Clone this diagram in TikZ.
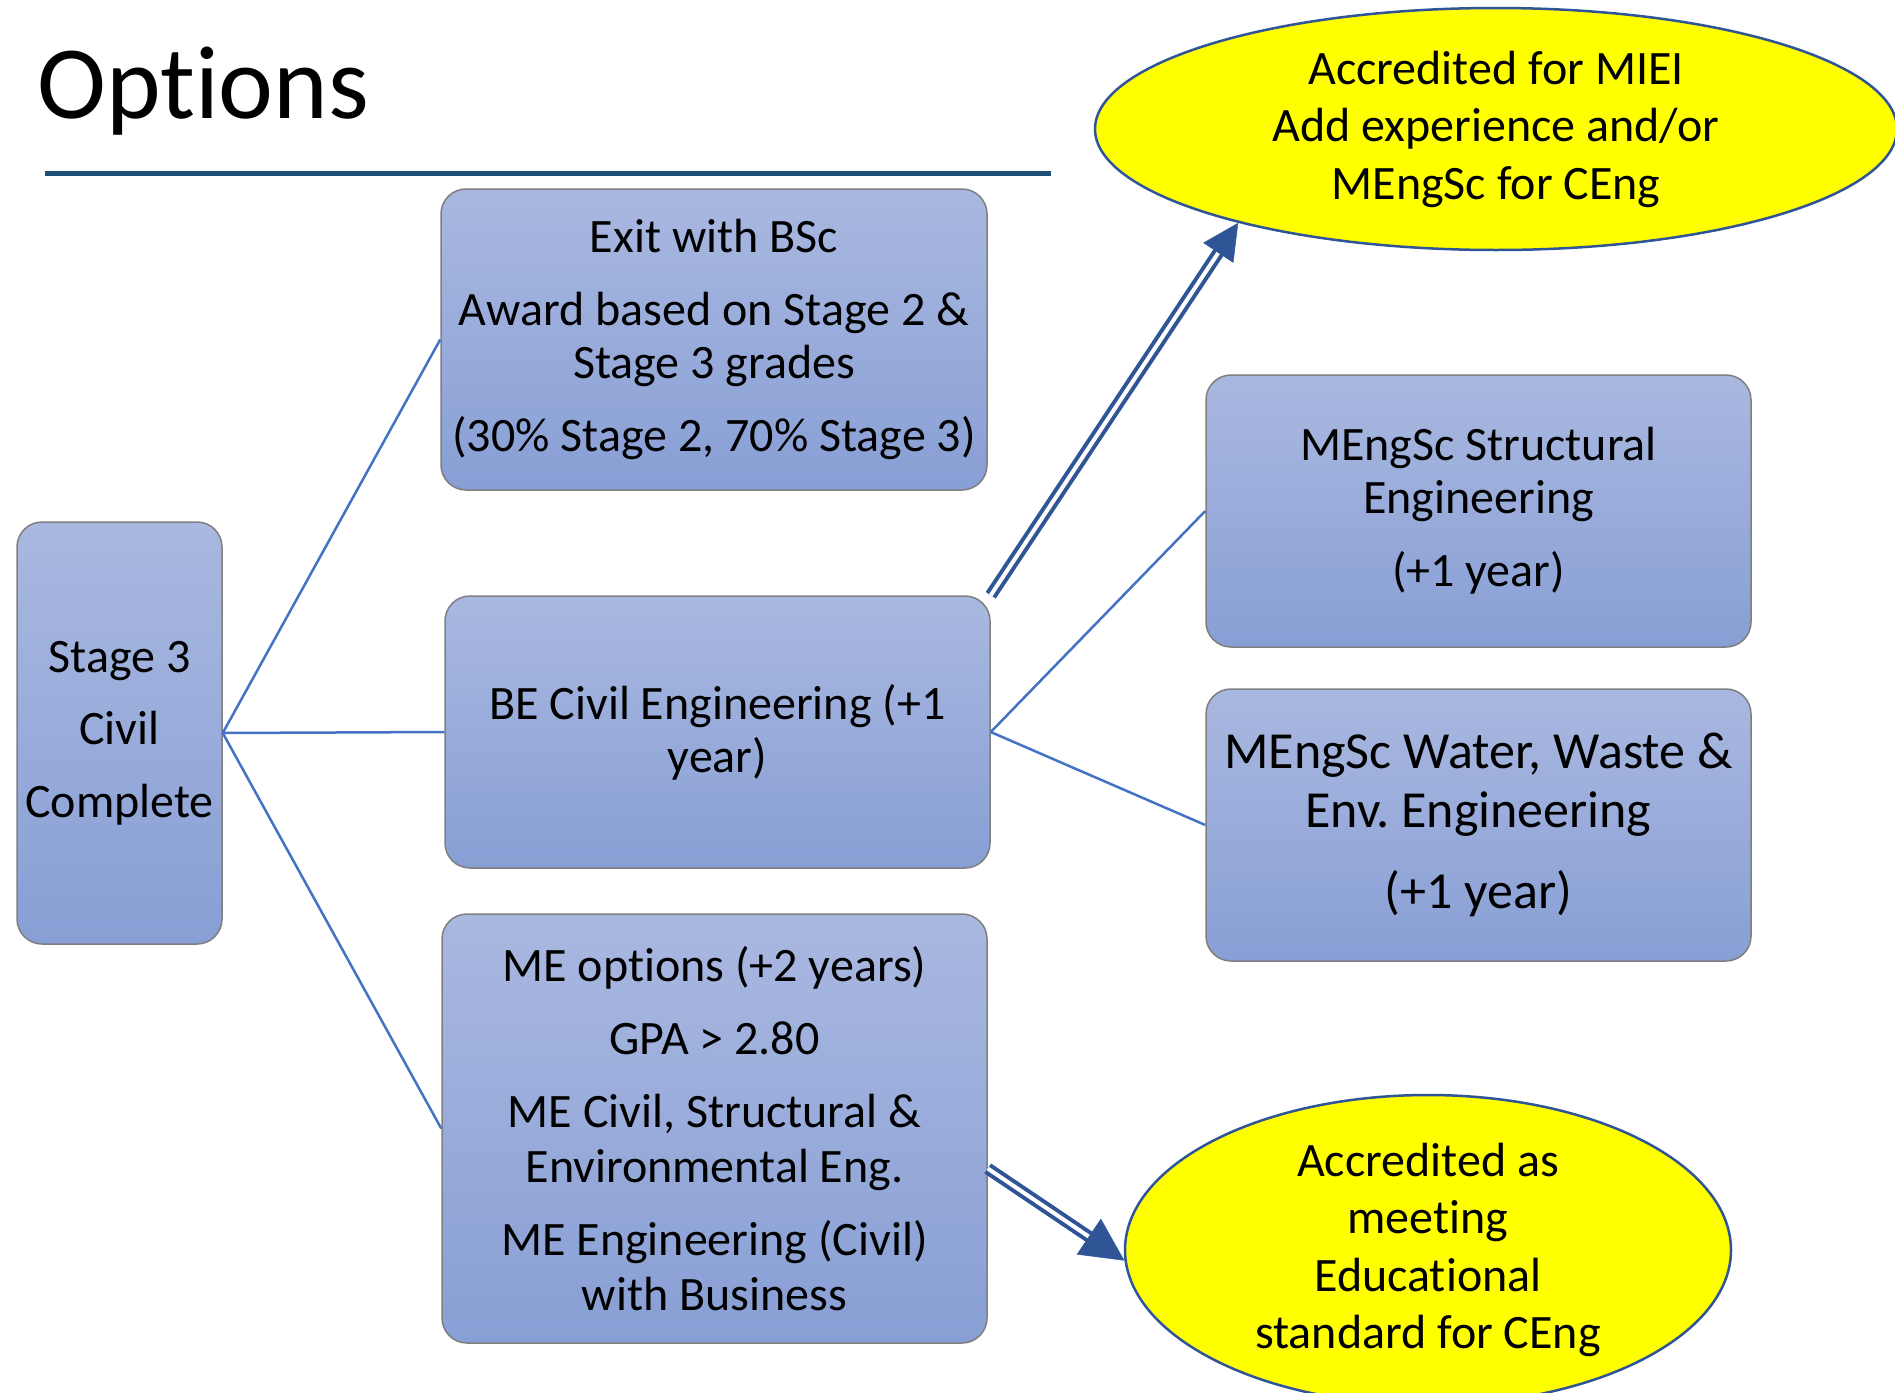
\documentclass[tikz,border=0pt]{standalone}
\usepackage{fontspec}
\setmainfont{Carlito}[Ligatures=NoCommon]
\frenchspacing
\usetikzlibrary{shapes.geometric,arrows.meta,calc}
\definecolor{boxtop}{HTML}{A9B8E0}
\definecolor{boxbot}{HTML}{889FD5}
\definecolor{boxline}{HTML}{7F7F7F}
\definecolor{connblue}{HTML}{4472C4}
\definecolor{arrblue}{HTML}{2F5597}
\definecolor{rulec}{HTML}{1F4E79}
\definecolor{ovalfill}{HTML}{FFFF00}
\begin{document}
\begin{tikzpicture}[x=1pt,y=-1pt,
  box/.style={draw=boxline, line width=1.5pt, rounded corners=25pt, top color=boxtop, bottom color=boxbot, align=center, inner sep=0pt, text=black, font=\fontsize{48}{53}\selectfont},
  oval/.style={ellipse, draw=arrblue, line width=2.5pt, fill=ovalfill, align=center, inner sep=0pt, text=black, font=\fontsize{48}{57.5}\selectfont},
  link/.style={draw=connblue, line width=2.5pt},
  dbl/.style={draw=arrblue, line width=4pt, double=white, double distance=4pt},
  tipline/.style={draw=arrblue, line width=0.5pt, -{Triangle[length=#1,width=#1]}}
]
\clip (0,0) rectangle (1895,1392);
\fill[white] (0,0) rectangle (1895,1392);

\node[anchor=base west, inner sep=0pt, font=\fontsize{104}{120}\selectfont] (T) at (37,118) {Options};
\draw[line width=5pt, rulec] (45,173) -- (1051,173);

\node[box, minimum width=205pt, minimum height=422pt] (S) at (119.5,733) {Stage 3\\[19.5pt]Civil\\[19.5pt]Complete};
\node[box, minimum width=546pt, minimum height=301pt] (X) at (714,339.5) {Exit with BSc\\[20pt]Award based on Stage 2 \&\\Stage 3 grades\\[20pt](30\% Stage 2, 70\% Stage 3)};
\node[box, minimum width=545pt, minimum height=272pt] (BE) at (717.5,732) {BE Civil Engineering (+1\\year)};
\node[box, minimum width=545pt, minimum height=429pt, font=\fontsize{48}{55}\selectfont] (ME) at (714.5,1128.5) {ME options (+2 years)\\[18pt]GPA > 2.80\\[18pt]ME Civil, Structural \&\\Environmental Eng.\\[18pt]ME Engineering (Civil)\\with Business};
\node[box, minimum width=545pt, minimum height=272pt] (Str) at (1478.5,511) {MEngSc Structural\\Engineering\\[20pt](+1 year)};
\node[box, minimum width=545pt, minimum height=272pt, font=\fontsize{52}{59}\selectfont] (W) at (1478.5,825) {MEngSc Water, Waste \&\\Env. Engineering\\[22pt](+1 year)};

\node[oval, minimum width=802pt, minimum height=242pt] (E1) at (1496,129) {Accredited for MIEI\\Add experience and/or\\MEngSc for CEng};
\node[oval, minimum width=606pt, minimum height=310pt] (E2) at (1428,1250) {Accredited as\\meeting\\Educational\\standard for CEng};

\draw[link] (S.east) -- (X.west);
\draw[link] (S.east) -- (BE.west);
\draw[link] (S.east) -- (ME.west);
\draw[link] (BE.east) -- (Str.west);
\draw[link] (BE.east) -- (W.west);

\draw[dbl, shorten >=32pt] (BE.north east) -- (E1.200);
\draw[tipline=36pt] ($(E1.200)!36pt!(BE.north east)$) -- (E1.200);
\draw[dbl, shorten >=39pt] ([yshift=-40pt]ME.east) -- (E2.182);
\draw[tipline=43pt] ($(E2.182)!43pt!([yshift=-40pt]ME.east)$) -- (E2.182);
\end{tikzpicture}
\end{document}
